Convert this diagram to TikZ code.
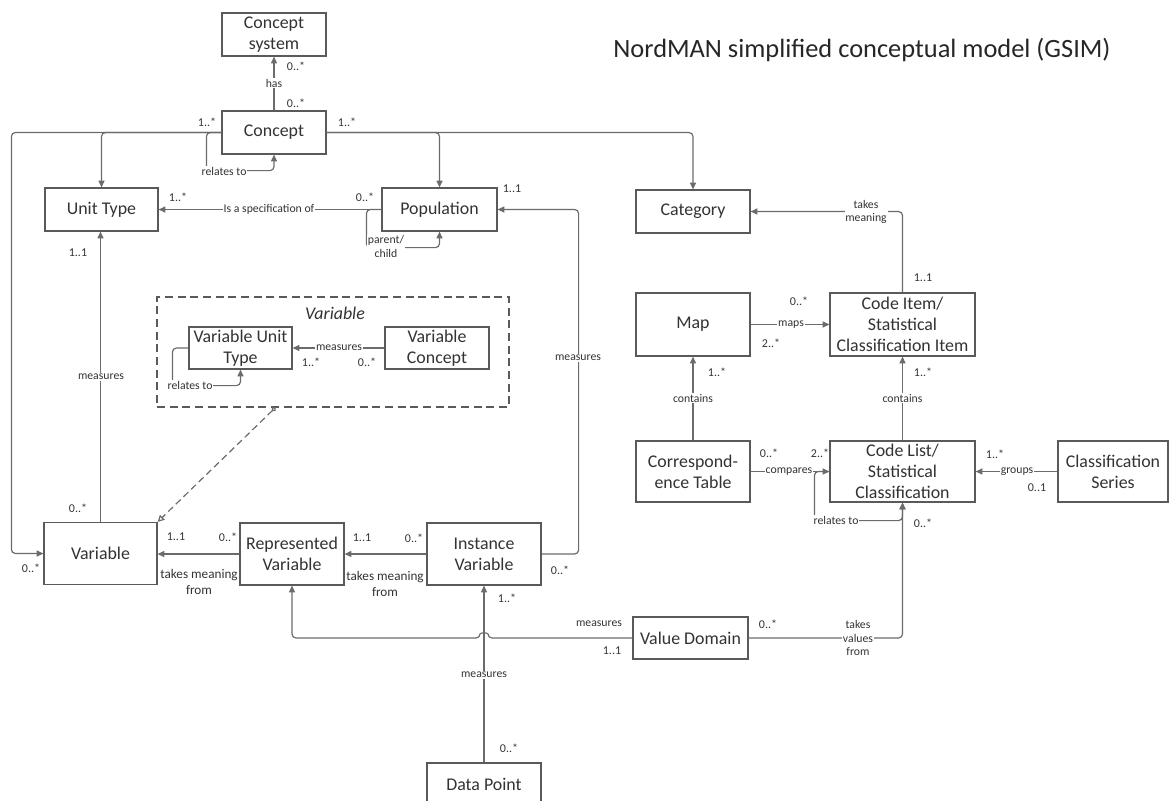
\documentclass[tikz,border=0pt]{standalone}
\usepackage{fontspec}
\setmainfont{Carlito}
\usetikzlibrary{arrows.meta,calc}
\definecolor{linec}{HTML}{6B6B6B}
\definecolor{boxc}{HTML}{5A5A5A}
\definecolor{txtc}{HTML}{333333}

\begin{document}
\begin{tikzpicture}[x=0.75pt,y=-0.75pt,
  ent/.style={draw=boxc,line width=0.9pt,fill=white,align=center,inner sep=1pt,
    text=txtc,font=\fontsize{13.4}{15.8}\selectfont},
  sz/.style 2 args={minimum width=#1*0.75pt,minimum height=#2*0.75pt},
  conn/.style={draw=linec,line width=0.9pt,rounded corners=3pt},
  arr/.style={conn,-{Triangle[length=5pt,width=4.5pt]}},
  lbl/.style={font=\fontsize{8.8}{10.2}\selectfont,text=txtc,fill=white,inner sep=0.6pt,align=center},
  mult/.style={font=\fontsize{9}{10}\selectfont,text=txtc,inner sep=0pt},
  tmf/.style={font=\fontsize{9.9}{11.5}\selectfont,text=txtc,align=center,inner sep=0pt}
]
\useasboundingbox (0,0) rectangle (1169,800);
\clip (0,0) rectangle (1169,800);

% title
\node[font=\fontsize{19.8}{23}\selectfont,text=black!85] (title) at (862,50)
  {NordMAN simplified conceptual model (GSIM)};

% grouping frame for the variable concepts
\node[draw=boxc,line width=0.9pt,dash pattern=on 6pt off 3.5pt,sz={352}{110},inner sep=0pt] (vgroup) at (333,352) {};
\node[font=\itshape\fontsize{13.4}{15}\selectfont,text=txtc] (vtitle) at (335,313) {Variable};

% entities
\node[ent,sz={104}{43}] (csys)    at (274,34.5)   {Concept\\system};
\node[ent,sz={104}{43}] (concept) at (274,132.5)  {Concept};
\node[ent,sz={113}{43}] (unit)    at (101.5,209.5){Unit Type};
\node[ent,sz={115}{43}] (pop)     at (439.5,209.5){Population};
\node[ent,sz={114}{43}] (cat)     at (693,211.5)  {Category};
\node[ent,sz={114}{63}] (map)     at (693,324.5)  {Map};
\node[ent,sz={145}{63}] (item)    at (902.5,324.5){Code Item/\\Statistical\\Classification Item};
\node[ent,sz={114}{61}] (corr)    at (693,471.5)  {Correspond-\\ence Table};
\node[ent,sz={145}{61}] (clist)   at (902.5,471.5){Code List/\\Statistical\\Classification};
\node[ent,sz={110}{61}] (cseries) at (1113,471.5) {Classification\\Series};
\node[ent,sz={115}{42}] (vd)      at (690.5,638)  {Value Domain};
\node[ent,sz={114}{43}] (dp)      at (484,784.5)  {Data Point};
\node[ent,sz={114}{62}] (iv)      at (484,554)    {Instance\\Variable};
\node[ent,sz={104}{62}] (rv)      at (292,554)    {Represented\\Variable};
\node[ent,sz={113}{62}] (var)     at (100.5,553.5){Variable};
\node[ent,sz={103}{42}] (vut)     at (240.5,348)  {Variable Unit\\Type};
\node[ent,sz={104}{42}] (vcon)    at (437,348)    {Variable\\Concept};

% Concept relations
\draw[arr] (concept.north) -- (csys.south);
\node[lbl] (l-has) at (274,83) {has};
\node[mult] (m1) at (296,66) {0..*};
\node[mult] (m2) at (296,103) {0..*};
\node[mult] (m3) at (207,122) {1..*};
\node[mult] (m4) at (347,122) {1..*};

\draw[arr] (concept.west) -| ($(concept.south west)+(-15,16)$) -| (concept.south);
\node[lbl] (l-rel1) at (224,171) {relates to};

\draw[arr] (concept.west) -| (unit.north);
\draw[arr] (concept.west) -| ($(var.west)+(-32,0)$) -- (var.west);
\draw[arr] (concept.east) -| (pop.north);
\draw[arr] (concept.east) -| (cat.north);

% Population
\draw[arr] (pop.west) -- (unit.east);
\node[lbl] (l-spec) at (269,209.5) {Is a specification of};
\node[mult] (m5) at (178,197) {1..*};
\node[mult] (m6) at (365,197) {0..*};
\draw[arr] (pop.west) -| ($(pop.south west)+(-15,16)$) -| (pop.south);
\node[lbl] (l-pc) at (386,246.5) {parent/\\child};
\node[mult] (m7) at (512,189) {1..1};

\draw[arr] (iv.east) -- ($(iv.east)+(37,0)$) |- (pop.east);
\node[lbl] (l-meas1) at (578,358) {measures};
\node[mult] (m8) at (560,570) {0..*};

% Variable to Unit Type
\draw[arr] (var.north) -- (var.north |- unit.south);
\node[lbl] (l-meas2) at (101,377) {measures};
\node[mult] (m9) at (78,253) {1..1};
\node[mult] (m10) at (78,508) {0..*};
\node[mult] (m11) at (31,568) {0..*};

% inside the variable frame
\draw[arr] (vcon.west) -- (vut.east);
\node[lbl] (l-meas3) at (339,348) {measures};
\node[mult] (m12) at (311,362) {1..*};
\node[mult] (m13) at (367,362) {0..*};
\draw[arr] (vut.west) -| ($(vut.south west)+(-16,16)$) -| (vut.south);
\node[lbl] (l-rel2) at (190,385) {relates to};

\draw[draw=linec,line width=0.9pt,dash pattern=on 5pt off 3pt,
  {Circle[open,length=3.5pt]}-{Triangle[open,length=5pt,width=5pt]}]
  ($(vgroup.south west)+(119,0)$) -- (var.north east);

% variable chain
\draw[arr] (rv.west) -- (rv.west -| var.east);
\node[mult] (m14) at (176,537) {1..1};
\node[mult] (m15) at (228,537) {0..*};
\node[tmf] (l-tm1) at (199,582) {takes meaning\\from};

\draw[arr] (iv.west) -- (rv.east);
\node[mult] (m16) at (362,538) {1..1};
\node[mult] (m17) at (414,538) {0..*};
\node[tmf] (l-tm2) at (385,584) {takes meaning\\from};

% Value Domain
\draw[arr] (vd.west) -- (488,638) .. controls (488,632.5) and (480,632.5) .. (480,638) -| (rv.south);
\node[lbl,fill=none] (l-meas4) at (599,624) {measures};
\node[mult] (m18) at (612,651) {1..1};

\draw[arr] (vd.east) -| (clist.south);
\node[lbl] (l-tvf) at (858,638) {takes\\values\\from};
\node[mult] (m19) at (768,624) {0..*};
\node[mult] (m20) at (923,523) {0..*};

% Data Point
\draw[arr] (dp.north) -- (iv.south);
\node[lbl] (l-meas5) at (484,675) {measures};
\node[mult] (m21) at (507,598) {1..*};
\node[mult] (m22) at (509,748) {0..*};

% classification side
\draw[arr] (corr.north) -- (map.south);
\node[lbl] (l-cont1) at (693,398) {contains};
\node[mult] (m23) at (717,372) {1..*};

\draw[arr] (clist.north) -- (item.south);
\node[lbl] (l-cont2) at (902.5,398) {contains};
\node[mult] (m24) at (923,372) {1..*};

\draw[arr] (map.east) -- (item.west);
\node[lbl] (l-maps) at (791,324.5) {maps};
\node[mult] (m25) at (799,301) {0..*};
\node[mult] (m26) at (771,343) {2..*};

\draw[arr] (corr.east) -- (clist.west);
\node[lbl] (l-comp) at (789,471.5) {compares};
\node[mult] (m27) at (769,453) {0..*};
\node[mult] (m28) at (820,453) {2..*};

\draw[arr] (clist.west) -| ($(clist.south west)+(-15,18)$) -| (clist.south);
\node[lbl] (l-rel3) at (836,520) {relates to};

\draw[arr] (cseries.west) -- (clist.east);
\node[lbl] (l-grp) at (1017,471.5) {groups};
\node[mult] (m29) at (995,454) {1..*};
\node[mult] (m30) at (1037,488) {0..1};

\draw[arr] (item.north) |- (cat.east);
\node[lbl] (l-tm3) at (866,212) {takes\\meaning};
\node[mult] (m31) at (923,278) {1..1};

\end{tikzpicture}
\end{document}
